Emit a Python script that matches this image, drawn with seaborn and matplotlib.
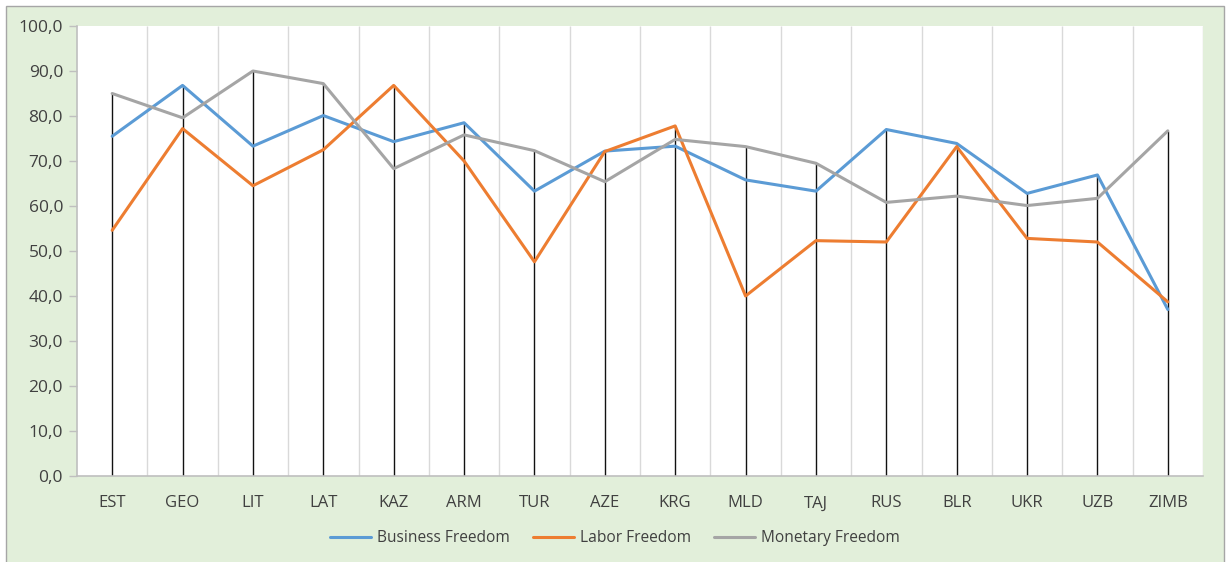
import numpy as np
import pandas as pd
import matplotlib
matplotlib.use("Agg")
import matplotlib.pyplot as plt
import seaborn as sns
from matplotlib.patches import Rectangle
from matplotlib.ticker import FuncFormatter

countries = ["EST", "GEO", "LIT", "LAT", "KAZ", "ARM", "TUR", "AZE",
             "KRG", "MLD", "TAJ", "RUS", "BLR", "UKR", "UZB", "ZIMB"]
business = [75.5, 86.8, 73.3, 80.1, 74.3, 78.5, 63.3, 72.2,
            73.3, 65.8, 63.3, 77.0, 73.9, 62.8, 66.9, 37.0]
labor = [54.6, 77.2, 64.5, 72.5, 86.8, 70.0, 47.6, 72.1,
         77.8, 40.0, 52.3, 52.0, 73.2, 52.8, 52.0, 38.7]
monetary = [85.0, 79.6, 90.0, 87.2, 68.3, 75.8, 72.3, 65.4,
            74.8, 73.2, 69.5, 60.8, 62.2, 60.1, 61.7, 76.7]
series_names = ["Business Freedom", "Labor Freedom", "Monetary Freedom"]
colors = ["#5B9BD5", "#ED7D31", "#A5A5A5"]

sns.set_theme(style="white")
plt.rcParams['font.family'] = ['Open Sans', 'DejaVu Sans']

pos = np.arange(len(countries))
df = pd.DataFrame({
    "pos": np.tile(pos, 3),
    "value": business + labor + monetary,
    "series": np.repeat(series_names, len(countries)),
})

fig = plt.figure(figsize=(12.3, 5.62), dpi=100)
fig.patch.set_facecolor("white")
fig.patches.append(Rectangle((6 / 1230, -0.01), (1224 - 6) / 1230, (556) / 562 + 0.01,
                             transform=fig.transFigure, facecolor="#E2EFDA",
                             edgecolor="#A6A6A6", linewidth=1.0, zorder=-10))

ax = fig.add_axes([77 / 1230, (562 - 476) / 562, (1203 - 77) / 1230, (476 - 26) / 562])
ax.set_facecolor("white")

# boundary gridlines
ax.vlines(pos[1:] - 0.5, 0, 100, color="#D9D9D9", lw=1.0, zorder=0)
ax.vlines([len(countries) - 0.5], 0, 100, color="#D9D9D9", lw=1.0, zorder=0)

# drop lines
tops = np.max(np.vstack([business, labor, monetary]), axis=0)
ax.vlines(pos, 0, tops, color="#111111", lw=1.0, zorder=1)

sns.lineplot(data=df, x="pos", y="value", hue="series", palette=colors,
             hue_order=series_names, sort=False, lw=2.2, ax=ax, zorder=3,
             legend=False)

ax.set_xlim(-0.5, len(countries) - 0.5)
ax.set_ylim(0, 100)
ax.set_xticks(pos)
ax.set_xticklabels(countries)
ax.set_yticks(np.arange(0, 101, 10))
ax.yaxis.set_major_formatter(FuncFormatter(lambda v, p: f"{v:.1f}".replace(".", ",")))
ax.set_xlabel("")
ax.set_ylabel("")

for s in ["top", "right"]:
    ax.spines[s].set_visible(False)
for s in ["left", "bottom"]:
    ax.spines[s].set_color("#BFBFBF")
    ax.spines[s].set_linewidth(1.2)
ax.tick_params(axis="y", which="major", left=True, length=6, width=1, color="#BFBFBF",
               labelsize=12.5, labelcolor="#404040", pad=4)
ax.tick_params(axis="x", which="major", bottom=False, labelsize=12,
               labelcolor="#404040", pad=8)

handles = [plt.Line2D([], [], color=c, lw=2.2) for c in colors]
fig.legend(handles, series_names, loc="center", bbox_to_anchor=(0.5, (562 - 538) / 562),
           ncol=3, frameon=False, fontsize=11.2, handlelength=2.6, columnspacing=1.5,
           handletextpad=0.4, labelcolor="#404040")

fig.savefig("out.png", dpi=100, facecolor=fig.get_facecolor())
